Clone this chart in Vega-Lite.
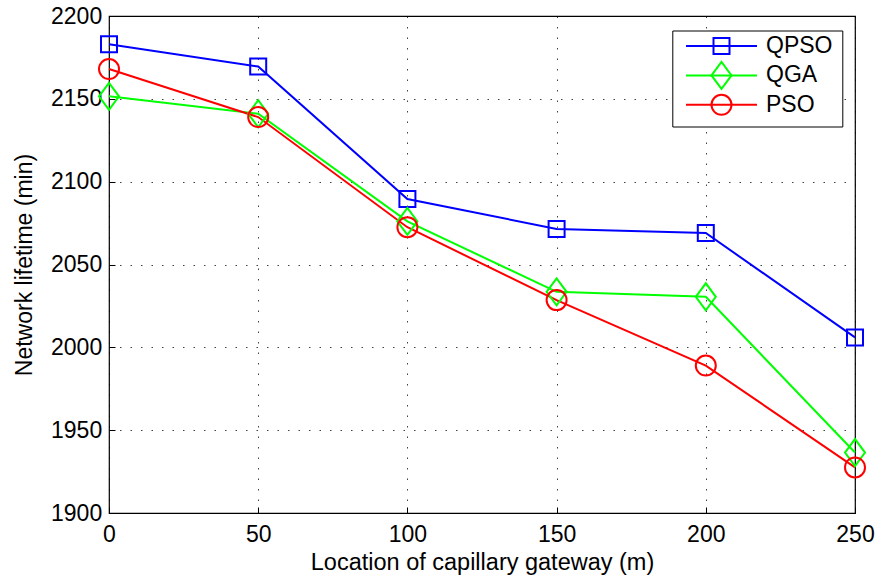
{
  "$schema": "https://vega.github.io/schema/vega-lite/v6.json",
  "width": 746,
  "height": 497,
  "autosize": {"type": "none"},
  "padding": {"left": 109, "top": 16, "right": 21, "bottom": 65},
  "background": "white",
  "config": {
    "font": "Liberation Sans",
    "view": {"stroke": "#000", "strokeWidth": 1.2},
    "axis": {
      "labelFont": "Liberation Sans",
      "titleFont": "Liberation Sans",
      "labelFontSize": 23,
      "titleFontSize": 23,
      "titleFontWeight": "normal",
      "labelColor": "#000",
      "titleColor": "#000",
      "tickColor": "#000",
      "tickSize": -6,
      "tickWidth": 1,
      "domain": false,
      "grid": true,
      "gridColor": "#000",
      "gridOpacity": 0.75,
      "gridDash": [1.5, 9],
      "gridWidth": 1,
      "labelFlush": false,
      "labelOverlap": false
    }
  },
  "data": {
    "values": [
      {"location": 0, "algorithm": "QPSO", "lifetime": 2183},
      {"location": 50, "algorithm": "QPSO", "lifetime": 2169.5},
      {"location": 100, "algorithm": "QPSO", "lifetime": 2089.5},
      {"location": 150, "algorithm": "QPSO", "lifetime": 2071.5},
      {"location": 200, "algorithm": "QPSO", "lifetime": 2069},
      {"location": 250, "algorithm": "QPSO", "lifetime": 2006},
      {"location": 0, "algorithm": "QGA", "lifetime": 2151.5},
      {"location": 50, "algorithm": "QGA", "lifetime": 2141},
      {"location": 100, "algorithm": "QGA", "lifetime": 2076},
      {"location": 150, "algorithm": "QGA", "lifetime": 2033.5},
      {"location": 200, "algorithm": "QGA", "lifetime": 2030.5},
      {"location": 250, "algorithm": "QGA", "lifetime": 1936.5},
      {"location": 0, "algorithm": "PSO", "lifetime": 2168},
      {"location": 50, "algorithm": "PSO", "lifetime": 2139},
      {"location": 100, "algorithm": "PSO", "lifetime": 2072.5},
      {"location": 150, "algorithm": "PSO", "lifetime": 2028.5},
      {"location": 200, "algorithm": "PSO", "lifetime": 1989},
      {"location": 250, "algorithm": "PSO", "lifetime": 1927.5}
    ]
  },
  "encoding": {
    "x": {
      "field": "location",
      "type": "quantitative",
      "scale": {"domain": [0, 250], "nice": false, "zero": false},
      "axis": {
        "values": [0, 50, 100, 150, 200, 250],
        "title": "Location of capillary gateway (m)",
        "titleFontSize": 23.5,
        "labelPadding": 16.5,
        "titlePadding": 4
      }
    },
    "y": {
      "field": "lifetime",
      "type": "quantitative",
      "scale": {"domain": [1900, 2200], "nice": false, "zero": false},
      "axis": {
        "values": [1900, 1950, 2000, 2050, 2100, 2150, 2200],
        "format": "d",
        "title": "Network lifetime (min)",
        "labelPadding": 13.3,
        "titlePadding": 14.2
      }
    }
  },
  "layer": [
    {
      "mark": {"type": "line", "strokeWidth": 2, "clip": false},
      "encoding": {
        "stroke": {
          "field": "algorithm",
          "type": "nominal",
          "scale": {"domain": ["QPSO", "QGA", "PSO"], "range": ["#0000ff", "#00ff00", "#ff0000"]},
          "legend": {
            "orient": "none",
            "legendX": 563.3,
            "legendY": 14.5,
            "title": null,
            "padding": 4,
            "rowPadding": -5.6,
            "strokeColor": "#000",
            "fillColor": "#fff",
            "symbolType": "M-4.42,-1.35M-4.42,1.35M11.25,0M-3.55,0H3.55",
            "symbolSize": 400,
            "symbolStrokeWidth": 2,
            "symbolOffset": 33.7,
            "labelOffset": 33,
            "labelFontSize": 23,
            "labelFont": "Liberation Sans",
            "labelColor": "#000",
            "labelLimit": 0
          }
        }
      }
    },
    {
      "mark": {"type": "point", "filled": false, "strokeWidth": 2, "size": 400, "opacity": 1, "clip": false},
      "encoding": {
        "stroke": {
          "field": "algorithm",
          "type": "nominal",
          "scale": {"domain": ["QPSO", "QGA", "PSO"], "range": ["#0000ff", "#00ff00", "#ff0000"]},
          "legend": {
            "orient": "none",
            "legendX": 563.3,
            "legendY": 14.5,
            "title": null,
            "padding": 4,
            "rowPadding": -5.6,
            "symbolSize": 400,
            "symbolStrokeWidth": 2,
            "symbolOffset": 33.7,
            "labelOffset": 33,
            "labelFontSize": 23,
            "labelExpr": "''",
            "zindex": 2
          }
        },
        "shape": {
          "field": "algorithm",
          "type": "nominal",
          "scale": {
            "domain": ["QPSO", "QGA", "PSO"],
            "range": [
              "M-4.42,-1.35M-4.42,1.35M11.25,0M-0.8,-0.8H0.8V0.8H-0.8Z",
              "M-4.42,-1.35M-4.42,1.35M11.25,0M-1,0L0,-1.35L1,0L0,1.35Z",
              "M-4.42,-1.35M-4.42,1.35M11.25,0M1,0A1,1,0,1,1,-1,0A1,1,0,1,1,1,0Z"
            ]
          },
          "legend": {
            "orient": "none",
            "legendX": 563.3,
            "legendY": 14.5,
            "title": null,
            "padding": 4,
            "rowPadding": -5.6,
            "symbolSize": 400,
            "symbolStrokeWidth": 2,
            "symbolOffset": 33.7,
            "labelOffset": 33,
            "labelFontSize": 23,
            "labelExpr": "''",
            "zindex": 2
          }
        }
      }
    }
  ],
  "resolve": {
    "scale": {"stroke": "independent", "shape": "independent"},
    "legend": {"stroke": "independent", "shape": "independent"}
  }
}
